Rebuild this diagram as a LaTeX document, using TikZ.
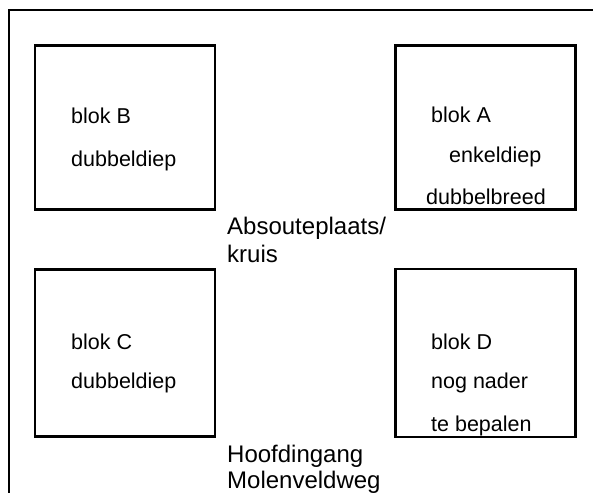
\documentclass[tikz,border=0pt]{standalone}
\usepackage{fontspec}
\setmainfont{Liberation Sans}
\newcommand{\blokfont}{\fontsize{21.5}{21.5}\selectfont}
\newcommand{\padfont}{\fontsize{24}{24}\selectfont}
\tikzset{
  blok/.style={draw, line width=2.7pt, minimum width=180pt, inner sep=0pt},
  lbl/.style={anchor=base west, inner sep=0pt, font=\blokfont},
  pad/.style={anchor=base west, inner sep=0pt, font=\padfont}
}
\begin{document}
\begin{tikzpicture}[x=1pt, y=-1pt]
        \useasboundingbox (0,0) rectangle (595,493);
        % Omlijning terrein
        \draw[line width=2pt] (9,493) -- (9,10) -- (593,10);

        % Blokken boven
        \node[blok, minimum height=164pt] (blokB) at (125,127.5) {};
        \node[blok, minimum height=164pt] (blokA) at (485.5,127.5) {};
        \node[lbl] (tB1) at (71,123) {blok B};
        \node[lbl] (tB2) at (71,166) {dubbeldiep};
        \node[lbl] (tA1) at (431,122) {blok A};
        \node[lbl] (tA2) at (449,162) {enkeldiep};
        \node[lbl] (tA3) at (426,204) {dubbelbreed};

        % Blokken onder
        \node[blok, minimum height=167pt] (blokC) at (125,353) {};
        \node[blok, minimum height=168pt] (blokD) at (485.5,353) {};
        \node[lbl] (tC1) at (71,349) {blok C};
        \node[lbl] (tC2) at (71,388) {dubbeldiep};
        \node[lbl] (tD1) at (431,349) {blok D};
        \node[lbl] (tD2) at (431,388) {nog nader};
        \node[lbl] (tD3) at (431,431) {te bepalen};

        % Middenpad
        \node[pad] (kruis1) at (227,234) {Absouteplaats/};
        \node[pad] (kruis2) at (227,262) {kruis};
        \node[pad] (ingang1) at (227,462) {Hoofdingang};
        \node[pad] (ingang2) at (227,488) {Molenveldweg};
\end{tikzpicture}
\end{document}
